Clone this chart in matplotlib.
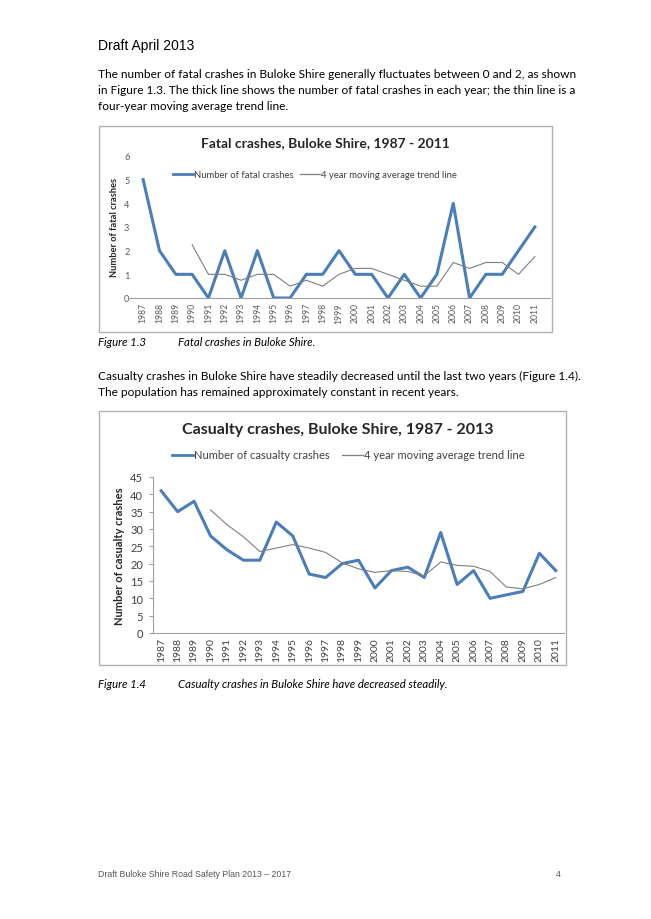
import matplotlib
matplotlib.use("Agg")
import matplotlib.pyplot as plt
from matplotlib.patches import Rectangle
from matplotlib.lines import Line2D

#Chart data
years = [str(y) for y in range(1987, 2012)]

fatal = [5, 2, 1, 1, 0, 2, 0, 2, 0, 0, 1, 1, 2, 1, 1, 0, 1, 0, 1, 4, 0, 1, 1, 2, 3]
fatal_trend = [None, None, None, 2.25, 1, 1, 0.75, 1, 1, 0.5, 0.75, 0.5, 1,
               1.25, 1.25, 1, 0.75, 0.5, 0.5, 1.5, 1.25, 1.5, 1.5, 1, 1.75]

casualty = [41, 35, 38, 28, 24, 21, 21, 32, 28, 17, 16, 20, 21, 13, 18, 19,
            16, 29, 14, 18, 10, 11, 12, 23, 18]
casualty_trend = [None, None, None, 35.5, 31.25, 27.75, 23.5, 24.5, 25.5, 24.5,
                  23.25, 20.25, 18.5, 17.5, 18, 17.75, 16.5, 20.5, 19.5, 19.25,
                  17.75, 13.25, 12.75, 14, 16]

fatal_ticks = [0, 1, 2, 3, 4, 5, 6]
casualty_ticks = [0, 5, 10, 15, 20, 25, 30, 35, 40, 45]

W, H = 651, 920
BLUE = "#4a7ebb"
GREY = "#7f7f7f"
BODY = ["Lato", "DejaVu Sans"]
HEAD = ["Liberation Sans", "DejaVu Sans"]

fig = plt.figure(figsize=(W / 100, H / 100), dpi=100)
fig.patch.set_facecolor("white")


def fx(x):
    return x / W


def fy(y):
    return 1 - y / H


def px_axes(x0, y0, x1, y1):
    return fig.add_axes([fx(x0), fy(y1), fx(x1 - x0), (y1 - y0) / H])


def box(x0, y0, x1, y1):
    fig.patches.append(Rectangle((fx(x0), fy(y1)), fx(x1 - x0), (y1 - y0) / H,
                                 transform=fig.transFigure, fill=False,
                                 edgecolor="#b0b0b0", lw=1.0))


def legend_row(y, x_a, label_a, x_b, label_b, size, seg):
    fig.add_artist(Line2D([fx(x_a), fx(x_a + seg)], [fy(y), fy(y)],
                          color=BLUE, lw=2, transform=fig.transFigure))
    fig.text(fx(x_a + seg + 1), fy(y), label_a, fontsize=size, color="#404040",
             family=BODY, va="center")
    fig.add_artist(Line2D([fx(x_b), fx(x_b + seg)], [fy(y), fy(y)],
                          color=GREY, lw=0.9, transform=fig.transFigure))
    fig.text(fx(x_b + seg + 1), fy(y), label_b, fontsize=size, color="#404040",
             family=BODY, va="center")


def style_axes(ax, ticks, ylab, size, left_spine, tick_color):
    x = range(len(years))
    for s in ["top", "right"]:
        ax.spines[s].set_visible(False)
    ax.spines["left"].set_visible(left_spine)
    ax.spines["left"].set_color("#a0a0a0")
    ax.spines["bottom"].set_color("#a0a0a0")
    ax.set_xlim(-0.5, len(years) - 0.5)
    ax.set_ylim(ticks[0], ticks[-1])
    ax.set_yticks(ticks)
    ax.set_xticks(list(x))
    ax.set_xticklabels(years, rotation=90, fontsize=size, color=tick_color,
                       family=BODY)
    ax.set_yticklabels([str(t) for t in ticks], fontsize=size + 0.5,
                       color=tick_color, family=BODY)
    ax.tick_params(axis="x", length=0, pad=3)
    ax.tick_params(axis="y", length=3 if left_spine else 0, color="#a0a0a0",
                   pad=4)
    ax.set_ylabel(ylab, fontsize=size + 0.5, fontweight="bold",
                  color="#262626", family=BODY, labelpad=4)
    ax.patch.set_alpha(0)


#Document text
fig.text(fx(98), fy(46), "Draft April 2013", fontsize=10, family=HEAD,
         va="center")
para1 = ["The number of fatal crashes in Buloke Shire generally fluctuates between 0 and 2, as shown",
         "in Figure 1.3. The thick line shows the number of fatal crashes in each year; the thin line is a",
         "four-year moving average trend line."]
for i, line in enumerate(para1):
    fig.text(fx(98), fy(74 + i * 16.5), line, fontsize=8.6, family=BODY,
             va="center")

#Chart 1
box(99, 127, 552, 333)
fig.text(fx(325), fy(143), "Fatal crashes, Buloke Shire, 1987 - 2011",
         fontsize=10, fontweight="bold", family=BODY, ha="center",
         va="center", color="#262626")
legend_row(175, 173, "Number of fatal crashes", 300, "4 year moving average trend line",
           6.8, 20)
ax1 = px_axes(135, 157, 543, 299)
ax1.plot(range(len(years)), fatal, color=BLUE, lw=2.2)
ax1.plot(range(len(years)), fatal_trend, color=GREY, lw=0.8)
ax1.spines["bottom"].set_position(("data", 0))
style_axes(ax1, fatal_ticks, "Number of fatal crashes", 6.2, False, "#595959")
ax1.spines["bottom"].set_bounds(-0.9, len(years) - 0.1)
ax1.set_ylim(fatal_ticks[0], fatal_ticks[-1])

fig.text(fx(98), fy(343), "Figure 1.3", fontsize=8.2, family=BODY,
         style="italic", va="center")
fig.text(fx(178), fy(343), "Fatal crashes in Buloke Shire.", fontsize=8.2,
         family=BODY, style="italic", va="center")

para2 = ["Casualty crashes in Buloke Shire have steadily decreased until the last two years (Figure 1.4).",
         "The population has remained approximately constant in recent years."]
for i, line in enumerate(para2):
    fig.text(fx(98), fy(376 + i * 16.5), line, fontsize=8.6, family=BODY,
             va="center")

#Chart 2
box(99, 412, 566, 666)
fig.text(fx(338), fy(430), "Casualty crashes, Buloke Shire, 1987 - 2013",
         fontsize=11.5, fontweight="bold", family=BODY, ha="center",
         va="center", color="#262626")
legend_row(456, 172, "Number of casualty crashes", 342,
           "4 year moving average trend line", 8, 21)
ax2 = px_axes(153, 478, 564, 634)
ax2.plot(range(len(years)), casualty, color=BLUE, lw=2.2)
ax2.plot(range(len(years)), casualty_trend, color=GREY, lw=0.8)
style_axes(ax2, casualty_ticks, "Number of casualty crashes", 7.5, True, "#404040")

fig.text(fx(98), fy(684), "Figure 1.4", fontsize=8.2, family=BODY,
         style="italic", va="center")
fig.text(fx(178), fy(684), "Casualty crashes in Buloke Shire have decreased steadily.",
         fontsize=8.2, family=BODY, style="italic", va="center")

#Footer
fig.text(fx(98), fy(875), "Draft Buloke Shire Road Safety Plan 2013 \u2013 2017",
         fontsize=6.3, family=HEAD, color="#555555", va="center")
fig.text(fx(556), fy(875), "4", fontsize=6.3, family=HEAD, color="#555555",
         va="center")

fig.savefig("out.png", dpi=100, facecolor="white")
